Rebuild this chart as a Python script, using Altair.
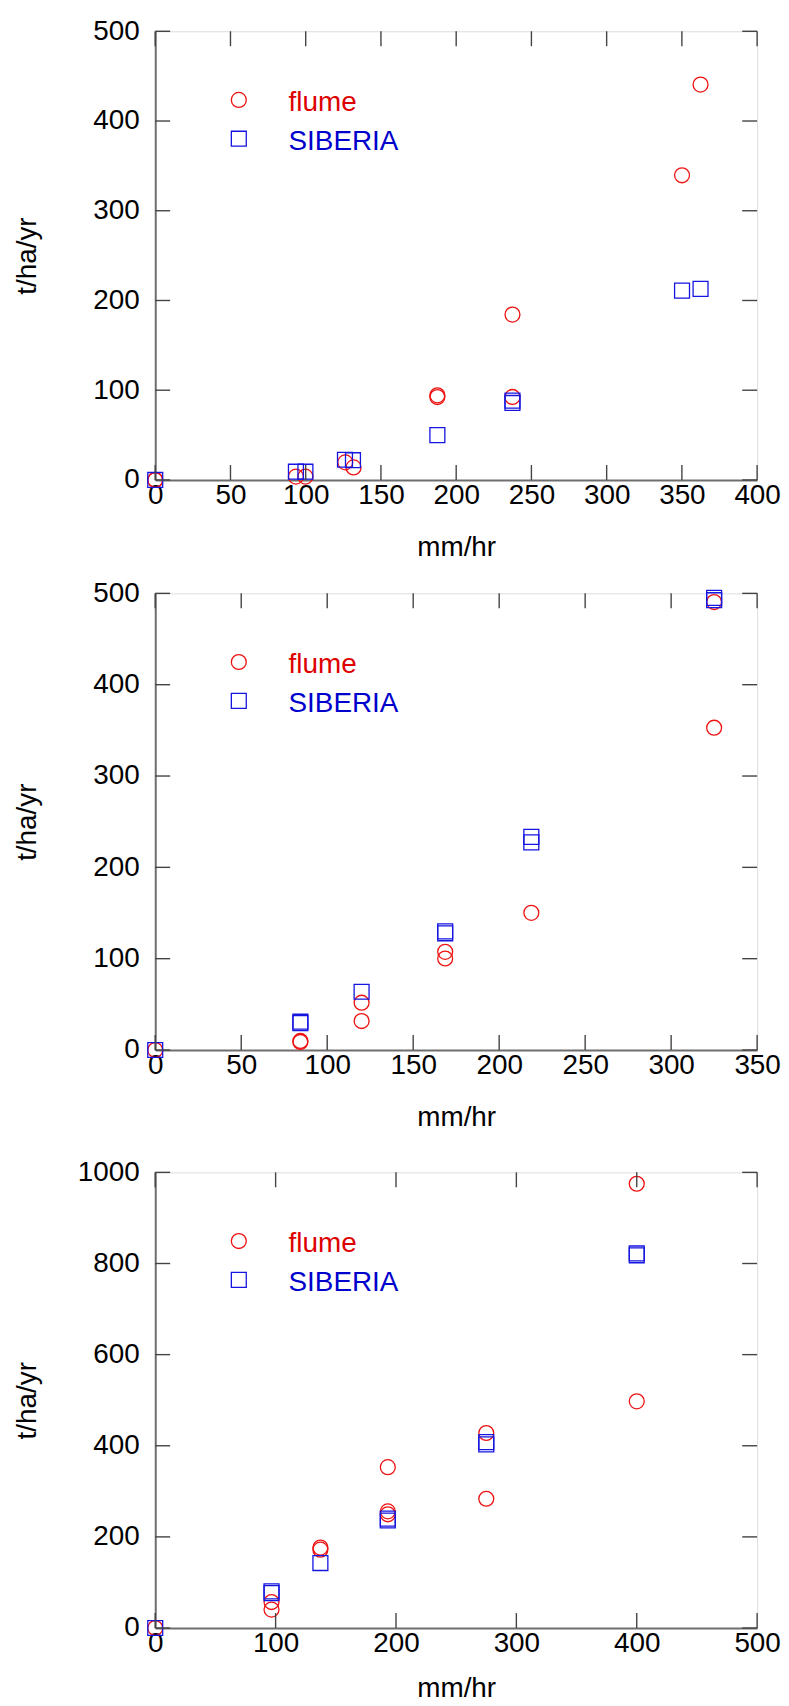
import altair as alt
import pandas as pd

series = ["flume", "SIBERIA"]

# ---- Panel 1 ----
p1_flume_x = [0, 0, 93.5, 99.8, 126.3, 131.8, 187.5, 187.5, 237.4, 237.4, 350.1, 362.4]
p1_flume_y = [0, 0, 3.7, 3.7, 19.6, 14.0, 94.3, 92.4, 92.5, 184.3, 339.5, 440.6]
p1_sib_x = [0, 93.5, 99.8, 126.1, 131.4, 187.5, 237.4, 237.4, 350.1, 362.4]
p1_sib_y = [0, 9.2, 9.2, 22.5, 22.0, 50.0, 88.4, 85.8, 211.0, 213.0]
p1_xticks = [0, 50, 100, 150, 200, 250, 300, 350, 400]
p1_yticks = [0, 100, 200, 300, 400, 500]

# ---- Panel 2 ----
p2_flume_x = [0, 84.4, 84.4, 120, 120, 168.6, 168.6, 218.7, 325, 325]
p2_flume_y = [0, 9.9, 8.8, 51.8, 31.7, 107.5, 100.2, 150.2, 352.9, 490.5]
p2_sib_x = [0, 84.4, 84.4, 120, 168.6, 168.6, 218.7, 218.7, 325, 325]
p2_sib_y = [0, 31.0, 29.5, 63.8, 129.9, 127.8, 233.4, 227.3, 495.0, 492.5]
p2_xticks = [0, 50, 100, 150, 200, 250, 300, 350]
p2_yticks = [0, 100, 200, 300, 400, 500]

# ---- Panel 3 ----
p3_flume_x = [0, 96.6, 96.6, 137.2, 137.2, 193.2, 193.2, 193.2, 275, 275, 400, 400]
p3_flume_y = [0, 57.0, 40.4, 176.5, 172.0, 353.0, 256.0, 249.6, 428.0, 283.7, 497.5, 975.0]
p3_sib_x = [0, 96.6, 96.6, 137.2, 193.2, 193.2, 275, 275, 400, 400]
p3_sib_y = [0, 80.5, 76.5, 142.6, 240.0, 236.0, 408.0, 403.0, 822.0, 818.0]
p3_xticks = [0, 100, 200, 300, 400, 500]
p3_yticks = [0, 200, 400, 600, 800, 1000]

FONT = "Liberation Sans"
FS = 28
RED_MARK = "#ee1111"
BLUE_MARK = "#1515e0"
RED_TEXT = "#dd0000"
BLUE_TEXT = "#0000cc"
FRAME = "#6e6e6e"
TICK = "#444444"
W = 605
TICK_LEN = 15


def make_panel(fx, fy, sx, sy, xticks, yticks, h, title_y=76):
    xs = alt.Scale(domain=[xticks[0], xticks[-1]], nice=False, zero=False)
    ys = alt.Scale(domain=[yticks[0], yticks[-1]], nice=False, zero=False)
    xaxis = alt.Axis(values=xticks, title="mm/hr", grid=False, ticks=False, tickSize=0,
                     format="d",
                     labelFont=FONT, labelFontSize=FS, labelColor="black",
                     labelPadding=2, labelFlush=False, labelOverlap=False,
                     domainColor=FRAME, domainWidth=2,
                     titleFont=FONT, titleFontSize=FS, titleFontWeight="normal",
                     titleColor="black", titleY=title_y, titleBaseline="alphabetic")
    yaxis = alt.Axis(values=yticks, title="t/ha/yr", grid=False, ticks=False, tickSize=0,
                     format="d",
                     labelFont=FONT, labelFontSize=FS, labelColor="black",
                     labelPadding=16, labelFlush=False, labelOverlap=False,
                     domainColor=FRAME, domainWidth=2,
                     titleFont=FONT, titleFontSize=FS, titleFontWeight="normal",
                     titleColor="black", titleX=-128, titleY=h / 2,
                     titleAngle=270, titleBaseline="middle", titleAlign="center")

    def X(f):
        return alt.X(f, scale=xs, axis=xaxis, title="mm/hr")

    def Y(f):
        return alt.Y(f, scale=ys, axis=yaxis, title="t/ha/yr")

    df_f = pd.DataFrame({"x": fx, "y": fy})
    df_s = pd.DataFrame({"x": sx, "y": sy})
    circles = alt.Chart(df_f).mark_point(shape="circle", filled=False, size=225,
                                         color=RED_MARK, strokeWidth=1.3, opacity=1).encode(
        x=X("x:Q"), y=Y("y:Q"))
    squares = alt.Chart(df_s).mark_point(shape="square", filled=False, size=225,
                                         color=BLUE_MARK, strokeWidth=1.3, opacity=1).encode(
        x=X("x:Q"), y=Y("y:Q"))

    dx = pd.DataFrame({"x": xticks})
    dy = pd.DataFrame({"y": yticks})
    rule_kw = dict(color=TICK, strokeWidth=1.4)
    t_left = alt.Chart(dy).mark_rule(**rule_kw).encode(
        y=Y("y:Q"), x=alt.value(0), x2=alt.value(TICK_LEN))
    t_right = alt.Chart(dy).mark_rule(**rule_kw).encode(
        y=Y("y:Q"), x=alt.value(W - TICK_LEN), x2=alt.value(W))
    t_bot = alt.Chart(dx).mark_rule(**rule_kw).encode(
        x=X("x:Q"), y=alt.value(h - TICK_LEN), y2=alt.value(h))
    t_top = alt.Chart(dx).mark_rule(**rule_kw).encode(
        x=X("x:Q"), y=alt.value(0), y2=alt.value(TICK_LEN))

    legend_layers = []
    shapes = ["circle", "square"]
    mcolors = [RED_MARK, BLUE_MARK]
    tcolors = [RED_TEXT, BLUE_TEXT]
    ly = [69, 108]
    for i, name in enumerate(series):
        d = pd.DataFrame({"label": [name]})
        legend_layers.append(
            alt.Chart(d).mark_point(shape=shapes[i], filled=False, size=225,
                                    color=mcolors[i], strokeWidth=1.3, opacity=1).encode(
                x=alt.value(84), y=alt.value(ly[i])))
        legend_layers.append(
            alt.Chart(d).mark_text(font=FONT, fontSize=FS, color=tcolors[i], align="left",
                                   baseline="alphabetic").encode(
                x=alt.value(134), y=alt.value(ly[i] + 11), text="label:N"))

    return alt.layer(circles, squares, t_left, t_right, t_bot, t_top,
                     *legend_layers).properties(width=W, height=h)


p1 = make_panel(p1_flume_x, p1_flume_y, p1_sib_x, p1_sib_y, p1_xticks, p1_yticks, 451)
p2 = make_panel(p2_flume_x, p2_flume_y, p2_sib_x, p2_sib_y, p2_xticks, p2_yticks, 459)
p3 = make_panel(p3_flume_x, p3_flume_y, p3_sib_x, p3_sib_y, p3_xticks, p3_yticks, 458,
                title_y=69)

inner = alt.vconcat(p2, p3, spacing=25)
chart = alt.vconcat(p1, inner, spacing=16).properties(
    padding={"left": 5, "top": 4, "right": 0, "bottom": 0}
).configure_view(stroke=FRAME, strokeWidth=2).configure(background="white")

chart.save("out.html", embed_options={"renderer": "svg", "actions": False})
